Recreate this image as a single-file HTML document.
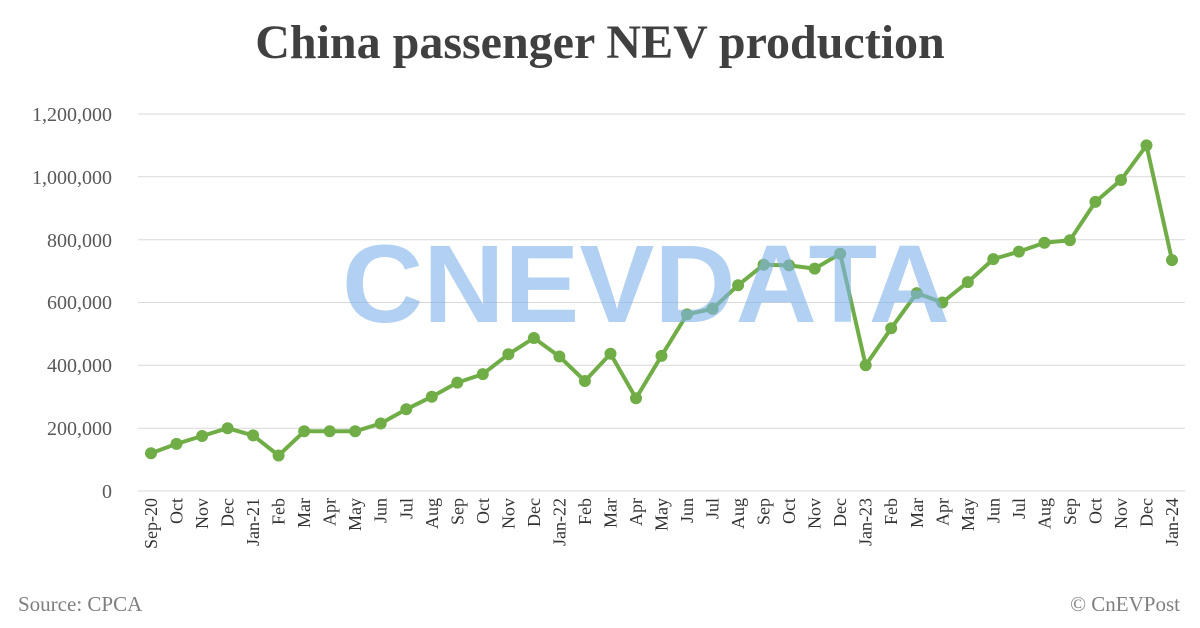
<!DOCTYPE html>
<html><head><meta charset="utf-8"><style>
body{margin:0;background:#fff;}
svg{display:block;font-family:"Liberation Serif",serif;}
</style></head><body>
<svg width="1200" height="628" viewBox="0 0 1200 628" xmlns="http://www.w3.org/2000/svg">
<rect width="1200" height="628" fill="#fff"/>
<text x="600" y="58" text-anchor="middle" font-size="48" font-weight="bold" fill="#404040">China passenger NEV production</text>
<g stroke="#d9d9d9" stroke-width="1">
<line x1="138" x2="1185" y1="114" y2="114"/><line x1="138" x2="1185" y1="176.8" y2="176.8"/><line x1="138" x2="1185" y1="239.7" y2="239.7"/><line x1="138" x2="1185" y1="302.5" y2="302.5"/><line x1="138" x2="1185" y1="365.3" y2="365.3"/><line x1="138" x2="1185" y1="428.2" y2="428.2"/><line x1="138" x2="1185" y1="491" y2="491"/>
</g>
<g font-size="20" fill="#595959" text-anchor="end">
<text x="112" y="121">1,200,000</text><text x="112" y="184">1,000,000</text><text x="112" y="247">800,000</text><text x="112" y="309">600,000</text><text x="112" y="372">400,000</text><text x="112" y="435">200,000</text><text x="112" y="498">0</text>
</g>
<g font-size="18" fill="#333" text-anchor="end">
<text transform="translate(157,498) rotate(-90)">Sep-20</text>
<text transform="translate(182.5,498) rotate(-90)">Oct</text>
<text transform="translate(208.1,498) rotate(-90)">Nov</text>
<text transform="translate(233.6,498) rotate(-90)">Dec</text>
<text transform="translate(259.1,498) rotate(-90)">Jan-21</text>
<text transform="translate(284.6,498) rotate(-90)">Feb</text>
<text transform="translate(310.2,498) rotate(-90)">Mar</text>
<text transform="translate(335.7,498) rotate(-90)">Apr</text>
<text transform="translate(361.2,498) rotate(-90)">May</text>
<text transform="translate(386.7,498) rotate(-90)">Jun</text>
<text transform="translate(412.3,498) rotate(-90)">Jul</text>
<text transform="translate(437.8,498) rotate(-90)">Aug</text>
<text transform="translate(463.3,498) rotate(-90)">Sep</text>
<text transform="translate(488.8,498) rotate(-90)">Oct</text>
<text transform="translate(514.4,498) rotate(-90)">Nov</text>
<text transform="translate(539.9,498) rotate(-90)">Dec</text>
<text transform="translate(565.4,498) rotate(-90)">Jan-22</text>
<text transform="translate(590.9,498) rotate(-90)">Feb</text>
<text transform="translate(616.5,498) rotate(-90)">Mar</text>
<text transform="translate(642,498) rotate(-90)">Apr</text>
<text transform="translate(667.5,498) rotate(-90)">May</text>
<text transform="translate(693,498) rotate(-90)">Jun</text>
<text transform="translate(718.6,498) rotate(-90)">Jul</text>
<text transform="translate(744.1,498) rotate(-90)">Aug</text>
<text transform="translate(769.6,498) rotate(-90)">Sep</text>
<text transform="translate(795.1,498) rotate(-90)">Oct</text>
<text transform="translate(820.7,498) rotate(-90)">Nov</text>
<text transform="translate(846.2,498) rotate(-90)">Dec</text>
<text transform="translate(871.7,498) rotate(-90)">Jan-23</text>
<text transform="translate(897.2,498) rotate(-90)">Feb</text>
<text transform="translate(922.8,498) rotate(-90)">Mar</text>
<text transform="translate(948.3,498) rotate(-90)">Apr</text>
<text transform="translate(973.8,498) rotate(-90)">May</text>
<text transform="translate(999.3,498) rotate(-90)">Jun</text>
<text transform="translate(1024.9,498) rotate(-90)">Jul</text>
<text transform="translate(1050.4,498) rotate(-90)">Aug</text>
<text transform="translate(1075.9,498) rotate(-90)">Sep</text>
<text transform="translate(1101.4,498) rotate(-90)">Oct</text>
<text transform="translate(1127,498) rotate(-90)">Nov</text>
<text transform="translate(1152.5,498) rotate(-90)">Dec</text>
<text transform="translate(1178,498) rotate(-90)">Jan-24</text>
</g>
<polyline fill="none" stroke="#70ad47" stroke-width="4" stroke-linejoin="round" points="151,453.3 176.5,443.9 202.1,436 227.6,428.2 253.1,435.4 278.6,455.5 304.2,431.3 329.7,431.3 355.2,431.3 380.7,423.5 406.3,409.3 431.8,396.7 457.3,382.6 482.8,374.1 508.4,354.3 533.9,338 559.4,356.5 584.9,381 610.5,353.7 636,398.3 661.5,355.9 687,314.4 712.6,308.8 738.1,285.2 763.6,264.8 789.1,265.4 814.7,268.6 840.2,253.8 865.7,365.3 891.2,328.3 916.8,293.1 942.3,302.5 967.8,282.1 993.3,259.1 1018.9,251.6 1044.4,242.8 1069.9,240.3 1095.4,201.9 1121,180 1146.5,145.4 1172,260.1"/>
<g fill="#70ad47">
<circle cx="151" cy="453.3" r="6"/><circle cx="176.5" cy="443.9" r="6"/><circle cx="202.1" cy="436" r="6"/><circle cx="227.6" cy="428.2" r="6"/><circle cx="253.1" cy="435.4" r="6"/><circle cx="278.6" cy="455.5" r="6"/><circle cx="304.2" cy="431.3" r="6"/><circle cx="329.7" cy="431.3" r="6"/><circle cx="355.2" cy="431.3" r="6"/><circle cx="380.7" cy="423.5" r="6"/><circle cx="406.3" cy="409.3" r="6"/><circle cx="431.8" cy="396.7" r="6"/><circle cx="457.3" cy="382.6" r="6"/><circle cx="482.8" cy="374.1" r="6"/><circle cx="508.4" cy="354.3" r="6"/><circle cx="533.9" cy="338" r="6"/><circle cx="559.4" cy="356.5" r="6"/><circle cx="584.9" cy="381" r="6"/><circle cx="610.5" cy="353.7" r="6"/><circle cx="636" cy="398.3" r="6"/><circle cx="661.5" cy="355.9" r="6"/><circle cx="687" cy="314.4" r="6"/><circle cx="712.6" cy="308.8" r="6"/><circle cx="738.1" cy="285.2" r="6"/><circle cx="763.6" cy="264.8" r="6"/><circle cx="789.1" cy="265.4" r="6"/><circle cx="814.7" cy="268.6" r="6"/><circle cx="840.2" cy="253.8" r="6"/><circle cx="865.7" cy="365.3" r="6"/><circle cx="891.2" cy="328.3" r="6"/><circle cx="916.8" cy="293.1" r="6"/><circle cx="942.3" cy="302.5" r="6"/><circle cx="967.8" cy="282.1" r="6"/><circle cx="993.3" cy="259.1" r="6"/><circle cx="1018.9" cy="251.6" r="6"/><circle cx="1044.4" cy="242.8" r="6"/><circle cx="1069.9" cy="240.3" r="6"/><circle cx="1095.4" cy="201.9" r="6"/><circle cx="1121" cy="180" r="6"/><circle cx="1146.5" cy="145.4" r="6"/><circle cx="1172" cy="260.1" r="6"/>
</g>
<text x="342" y="322" font-family="Liberation Sans,sans-serif" font-weight="bold" font-size="110" fill="#7fb2ea" opacity="0.6" textLength="608" lengthAdjust="spacingAndGlyphs">CNEVDATA</text>
<text x="18" y="611" font-size="21" fill="#7f7f7f">Source: CPCA</text>
<text x="1180" y="611" font-size="21" fill="#7f7f7f" text-anchor="end">© CnEVPost</text>
</svg>
</body></html>
